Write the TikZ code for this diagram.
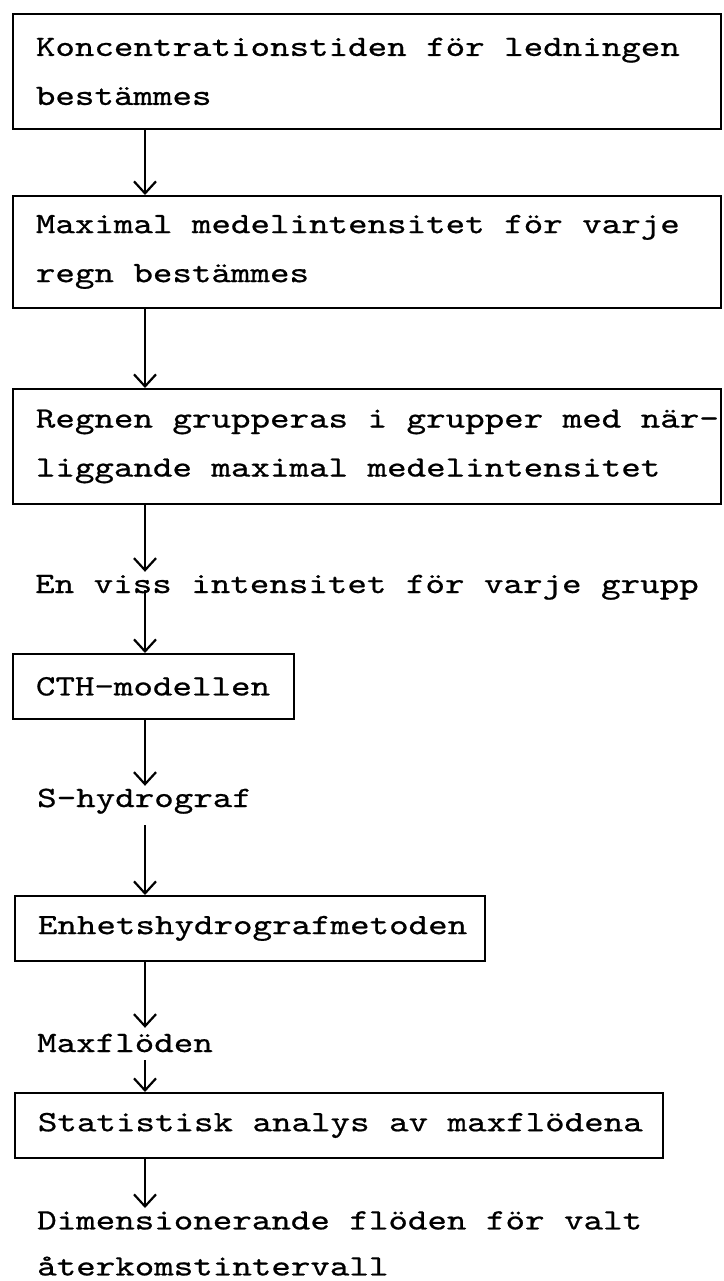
\documentclass[tikz,border=0pt]{standalone}
\usepackage{fontspec}
\newfontfamily\flowfont{lmmono10-regular.otf}[FakeStretch=1.26, FakeBold=0.7]
\usetikzlibrary{arrows.meta, calc}

\tikzset{
    flowbox/.style={draw, line width=1.8pt, anchor=north west, inner xsep=23pt, inner ysep=0pt,
        align=left, font=\flowfont\fontsize{29.5}{49}\selectfont,
        execute at begin node={\spaceskip=19.5pt\relax}},
    flowlabel/.style={anchor=base west, inner sep=0pt, text height=18pt, text depth=0pt,
        font=\flowfont\fontsize{29.5}{46}\selectfont},
    flowarrow/.style={line width=2.2pt, -{Straight Barb[length=12pt, width=22pt]}}
}

\begin{document}
\begin{tikzpicture}[x=1pt, y=-1pt]
    \useasboundingbox (0,0) rectangle (723,1281);
    \coordinate (col) at (145,0);

    \node[flowbox, minimum width=708pt, minimum height=115pt, text width=662pt] (b1) at (12,13)
        {Koncentrationstiden för ledningen\\bestämmes};
    \node[flowbox, minimum width=708pt, minimum height=112pt, text width=662pt] (b2) at (12,195)
        {Maximal medelintensitet för varje\\regn bestämmes};
    \node[flowbox, minimum width=708pt, minimum height=115pt, text width=662pt] (b3) at (12,388)
        {\mbox{Regnen grupperas i grupper med när-}\\liggande maximal medelintensitet};
    \node[flowlabel] (intens) at (35,593) {En viss intensitet för varje grupp};
    \node[flowbox, minimum width=281pt, minimum height=65pt, text width=235pt] (cth) at (12,653)
        {\mbox{CTH-modellen}};
    \node[flowlabel] (shydro) at (37,807) {S-hydrograf};
    \node[flowbox, minimum width=470pt, minimum height=65pt, text width=424pt] (enhet) at (14,895)
        {Enhetshydrografmetoden};
    \node[flowlabel] (maxq) at (37,1052) {Maxflöden};
    \node[flowbox, minimum width=648pt, minimum height=65pt, text width=602pt] (stat) at (14,1092)
        {\mbox{Statistisk analys av maxflödena}};
    \node[anchor=north west, inner sep=0pt, align=left, font=\flowfont\fontsize{29.5}{46}\selectfont]
        (dimq) at (37,1211) {Dimensionerande flöden för valt\\återkomstintervall};

    \draw[flowarrow] (b1.south -| col) -- (b2.north -| col);
    \draw[flowarrow] (b2.south -| col) -- (b3.north -| col);
    \draw[flowarrow] (b3.south -| col) -- ($(intens.north -| col)+(0,-3)$);
    \draw[flowarrow] ($(intens.south -| col)+(0,-3)$) -- (cth.north -| col);
    \draw[flowarrow] (cth.south -| col) -- ($(shydro.north -| col)+(0,-3)$);
    \draw[flowarrow] ($(shydro.south -| col)+(0,18)$) -- (enhet.north -| col);
    \draw[flowarrow] (enhet.south -| col) -- ($(maxq.north -| col)+(0,-6)$);
    \draw[flowarrow] ($(maxq.south -| col)+(0,8)$) -- (stat.north -| col);
    \draw[flowarrow] (stat.south -| col) -- ($(dimq.north -| col)+(0,-3)$);
\end{tikzpicture}
\end{document}
